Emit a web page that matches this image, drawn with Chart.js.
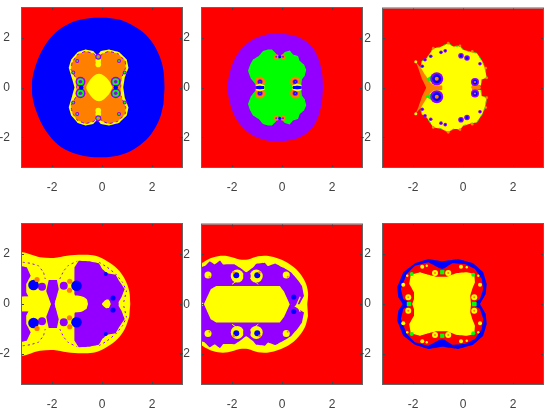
<!DOCTYPE html>
<html><head><meta charset="utf-8">
<style>html,body{margin:0;padding:0;background:#fff;width:550px;height:408px;overflow:hidden}canvas{position:absolute}</style>
<script src="https://cdn.jsdelivr.net/npm/chart.js@4"></script>
</head><body>
<script>
const axisTicks=[-2,0,2];
const axisLimit=3.2;
const RED='#ff0000',BLUE='#0000ff',ORANGE='#ff8000',YELLOW='#ffff00',GREEN='#00ff00',PURPLE='#9400ff';

// Panel 1 (upper halves, x,y)
const p1Blue=[[2.5,0],[2.46,.67],[2.3,1.27],[1.97,1.87],[1.5,2.33],[.89,2.67],[.35,2.79],[-.16,2.81],[-.72,2.76],[-1.33,2.57],[-1.87,2.2],[-2.34,1.6],[-2.64,.93],[-2.79,.33],[-2.8,0]];
const p1Rim=[[.85,0],[.91,.4],[1.06,.8],[.99,1.13],[.68,1.43],[.28,1.53],[-.05,1.47],[-.19,1.29],[-.35,1.47],[-.66,1.53],[-.97,1.43],[-1.23,1.13],[-1.33,.8],[-1.19,.33],[-1.1,0]];
const p1Orange=[[.75,0],[.76,.33],[.95,.8],[.93,1.07],[.64,1.36],[.28,1.46],[.01,1.36],[-.15,1.13],[-.32,1.36],[-.66,1.46],[-.99,1.32],[-1.2,1],[-1.24,.73],[-1.02,.33],[-1.02,0]];
const p1Diamond=[[.42,0],[.28,.27],[.08,.47],[-.12,.55],[-.32,.47],[-.52,.24],[-.63,0]];
const p1Rings=[[.55,.23],[-.86,.23]];
const p1Neck=[[.55,0],[-.83,0]];
const p1Top=[[-.15,1.24]];
const p1TopBlob=[[-.15,1.07],[-.15,.93]];
const p1Small=[[.68,1.07],[-.99,1.07],[.91,.6],[-1.15,.6]];

// Panel 2
const p2Purple=[[1.64,0],[1.6,.6],[1.44,1.2],[1.17,1.67],[.71,2],[.24,2.13],[-.29,2.17],[-.83,2.07],[-1.36,1.8],[-1.83,1.27],[-2.09,.6],[-2.17,0]];
const p2Green=[[.37,0],[.77,.09],[.8,.33],[.91,.47],[.97,.71],[.88,.93],[.71,1.07],[.64,1.27],[.44,1.33],[.31,1.49],[.11,1.43],[-.05,1.24],[-.13,1.16],[-.25,1.38],[-.4,1.53],[-.56,1.53],[-.76,1.47],[-.93,1.27],[-1.16,1.13],[-1.27,.93],[-1.36,.67],[-1.25,.36],[-1.03,.09],[-.69,0]];
const p2Rings=[[-.88,.23],[.53,.23]];
const p2Small=[[-.23,1.24],[.04,1.24]];
const p2Tiny=[[-.09,1.24]];
const p2BarL=[[-1.03,0],[-.72,0]];
const p2BarR=[[.44,0],[.75,0]];
const p2ArcL=[[-1.05,.07],[-.88,.13],[-.7,.05]];
const p2ArcR=[[.42,.05],[.6,.13],[.78,.07]];

// Panel 3
const p3Yellow=[[.35,0],[.37,.09],[.72,.09],[.75,.33],[.95,.4],[.88,.8],[.77,1.07],[.55,1.4],[.35,1.43],[.01,1.53],[-.12,1.69],[-.39,1.67],[-.59,1.8],[-.92,1.64],[-1.19,1.6],[-1.45,1.2],[-1.65,1.07],[-1.72,.67],[-1.45,.27],[-1.45,0]];
const p3Stalk=[[-.83,0],[-.83,.09],[-1.19,.11],[-1.32,.23],[-1.52,.53],[-1.68,.8],[-1.89,1.05],[-1.79,.8],[-1.63,.33],[-1.47,0]];
const p3Tongue=[[.35,0],[.37,.09],[.68,.07],[.72,0]];
const p3Wedge=[[-1.52,.33],[-1.15,.57],[-1.09,.17]];
const p3BigRing=[[-1.05,.36]];
const p3MidRing=[[.48,.23]];
const p3Rings3=[[-.08,1.29],[.16,1.2]];
const p3Rings2=[[-.88,1.43],[-.71,1.49],[-1.29,1.27],[-1.63,.87],[.68,.97],[-1.52,1.13]];
const p3Tips=[[-.59,1.8],[-.12,1.69],[-1.19,1.6],[.37,1.47],[.95,.4],[.91,.8]];
const p3TipEnd=[[-1.89,1.05]];

// Panel 4
const p4Yellow=[[1.13,0],[1.09,.51],[.91,1],[.62,1.4],[.21,1.71],[-.26,1.93],[-.79,1.97],[-1.4,1.93],[-1.93,1.84],[-2.48,1.87],[-3.3,2],[-3.3,0]];
const p4Body=[[.62,0],[.78,.27],[.91,.6],[.68,.93],[.55,1.17],[.21,1.23],[.01,1.4],[-.12,1.63],[-.52,1.71],[-.93,1.73],[-1.1,1.47],[-1.1,.4],[-1,0]];
const p4Column=[[-2.04,0],[-2.23,.51],[-2.13,.96],[-1.8,.96],[-1.73,.6],[-1.89,0]];
const p4Left=[[-3.3,1.53],[-3.01,1.47],[-2.85,1.13],[-3.03,.8],[-3.03,.47],[-2.94,.29],[-3.3,.29]];
const p4LeftHole=[[-3.3,.29],[-2.47,.32],[-2.2,.27],[-2.07,.01],[-3.3,.01]];
const p4MidHole=[[-.56,0],[-.62,.2],[-.86,.32],[-1.4,.33],[-1.77,.29],[-1.87,0]];
const p4TipHole=[[.35,0],[.28,.16],[.15,.16],[.01,.03],[0,0]];
const p4PurpleDots=[[-2.4,.69],[-1.53,.73]];
const p4BlueDots=[[-2.74,.76],[-1.02,.73]];
const p4OrangeDots=[[-2.6,.98],[-1.29,.91],[-1.3,.55]];
const p4Ring=[[.44,.24]];
const p4Center=[[.55,0]];
const p4Edge=[[.15,1.2]];
const p4Dash1=[[-3.17,1.67],[-2.87,1.63],[-2.54,1.53],[-2.34,1.27],[-2.27,1]];
const p4Dash2=[[-1.69,1],[-1.53,1.33],[-1.33,1.56],[-.99,1.71]];
const p4Dash3=[[-.12,1.67],[.21,1.47],[.55,1.2],[.82,.87],[.98,.53],[.85,0]];

// Panel 5
const p5Yellow=[[1.01,0],[1.04,.47],[.91,.93],[.57,1.4],[.11,1.73],[-.49,1.93],[-.96,1.93],[-1.36,1.8],[-1.69,1.8],[-2.16,1.93],[-2.56,1.93],[-2.96,1.8],[-3.3,1.5],[-3.3,0]];
const p5Purple=[[.37,0],[.7,0],[.88,.33],[.8,.73],[.64,.96],[.37,1.27],[.17,1.4],[.04,1.47],[-.27,1.64],[-.56,1.53],[-.69,1.67],[-1.03,1.63],[-1.16,1.47],[-1.43,1.27],[-1.69,1.47],[-1.89,1.6],[-2.36,1.6],[-2.48,1.76],[-2.69,1.6],[-2.89,1.73],[-3.09,1.53],[-3.3,1.47],[-3.3,0]];
const p5Hex=[[.31,0],[.08,.51],[-.09,.73],[-2.63,.73],[-2.85,.6],[-3.12,0]];
const p5Edge=[[-3.12,0],[-3.3,.18],[-3.3,0]];
const p5Pods=[[-1.79,1.13],[-1.03,1.13]];
const p5PodBlue=[[-1.83,1.16],[-.99,1.16]];
const p5PodOrange=[[-1.93,1.27],[-.9,1.27]];
const p5Mid=[[-1.4,1.13]];
const p5SideDots=[[-2.96,1.17],[.17,1.17]];
const p5SideInner=[[-2.9,1.1],[.23,1.1]];
const p5Col=[[.47,.29]];
const p5ColMid=[[.47,0]];
const p5Diag1=[[.6,0],[.73,.3]];
const p5Diag2=[[-2,.8],[-1.45,1.2],[-.95,.8]];

// Panel 6
const p6Blue=[[.68,0],[.91,.4],[.95,.8],[.81,1.27],[.41,1.63],[-.19,1.8],[-.83,1.71],[-1.39,1.8],[-1.92,1.63],[-2.39,1.27],[-2.63,.67],[-2.59,.27],[-2.41,0]];
const p6Red=[[.41,.03],[.68,.2],[.81,.6],[.75,1],[.48,1.4],[.08,1.6],[-.43,1.63],[-.72,1.44],[-.83,1.4],[-.96,1.44],[-1.39,1.67],[-1.92,1.53],[-2.25,1.2],[-2.48,.6],[-2.39,.2],[-2.08,.03]];
const p6Yellow=[[.32,0],[.29,.33],[.37,.6],[.48,.87],[.45,1.2],[.15,1.27],[-.25,1.24],[-.65,1.09],[-1.05,1.09],[-1.39,1.17],[-1.72,1.27],[-2.09,1.17],[-2.15,.8],[-1.96,.47],[-1.96,.2],[-2.03,0]];
const p6Squares=[[-.83,1.27],[-2.16,0],[.45,0]];
const p6Corners=[[-2.05,1.2],[.41,1.17]];
const p6Big=[[-1.12,1.24],[-.59,1.24],[-2.19,.27],[.45,.27]];
const p6Mid=[[-.08,1.49],[-1.63,1.49],[-2.39,.77],[.68,.77]];
const p6Tiny=[[.15,1.47],[-1.45,1.53],[-2.23,1.13],[.61,1.13]];

const pt=a=>a.map(([x,y])=>({x,y}));
const flip=a=>a.map(([x,y])=>[x,-y]);
const mirror=a=>a.concat(flip(a).reverse().filter(([x,y])=>y!==0));
const both=a=>a.concat(flip(a));
const area=(d,c,extra={})=>({data:pt(d),showLine:true,fill:'shape',backgroundColor:c,borderColor:c,borderWidth:0,pointRadius:0,tension:.001,...extra});
const blob=(d,c)=>area(d,c,{tension:.35});
const trace=(d,c,w,dash=[])=>({data:pt(d),showLine:true,fill:false,borderColor:c,borderWidth:w,borderDash:dash,pointRadius:0,tension:.001});
const dots=(d,c,r,style='circle')=>({data:pt(d),showLine:false,pointStyle:style,pointRadius:r,pointBackgroundColor:c,pointBorderWidth:0});
const rings=(d,list)=>list.map(([c,r])=>dots(d,c,r));

const panels=[
{left:22,top:8,h:159,layers:[
 blob(mirror(p1Blue),BLUE),area(mirror(p1Rim),YELLOW),
 area(mirror(p1Orange),ORANGE,{borderColor:PURPLE,borderWidth:1,borderDash:[3,3]}),
 blob(mirror(p1Diamond),YELLOW),
 ...rings(both(p1Rings),[[PURPLE,5],[GREEN,3.5],[PURPLE,1.8]]),
 dots(p1Neck,BLUE,2.2),
 dots(both(p1TopBlob),YELLOW,2.8),
 ...rings(both(p1Top),[[PURPLE,3],[GREEN,1.8],[ORANGE,.8]]),
 ...rings(both(p1Small),[[PURPLE,2],[GREEN,1]])]},
{left:202,top:8,h:159,layers:[
 blob(mirror(p2Purple),PURPLE),area(mirror(p2Green),GREEN),
 ...rings(both(p2Rings),[[ORANGE,5.2],[PURPLE,2.6],[BLUE,1.7],[ORANGE,.6]]),
 ...rings(both(p2Small),[[ORANGE,2.5],[PURPLE,1]]),
 dots(both(p2Tiny),BLUE,1.5),
 trace(p2ArcL,YELLOW,1.5),trace(flip(p2ArcL),YELLOW,1.5),trace(p2ArcR,YELLOW,1.5),trace(flip(p2ArcR),YELLOW,1.5),
 trace(p2BarL,BLUE,3),trace(p2BarR,BLUE,3)]},
{left:383,top:8,h:159,layers:[
 area(mirror(p3Yellow),YELLOW,{borderColor:GREEN,borderWidth:1,borderDash:[3,4]}),
 area(mirror(p3Stalk),ORANGE),area(mirror(p3Tongue),ORANGE),
 area(p3Wedge,GREEN),area(flip(p3Wedge),GREEN),
 ...rings(both(p3BigRing),[[PURPLE,6.5],[BLUE,4.5],[ORANGE,2]]),
 ...rings(both(p3MidRing),[[PURPLE,4],[BLUE,2.5],[ORANGE,1]]),
 ...rings(both(p3Rings3),[[PURPLE,2.8],[BLUE,1.5]]),
 ...rings(both(p3Rings2),[[PURPLE,1.8],[BLUE,.8]]),
 dots(both(p3Tips),ORANGE,1.3),dots(both(p3TipEnd),YELLOW,1.5)]},
{left:22,top:224,h:160,layers:[
 blob(mirror(p4Yellow),YELLOW),area(mirror(p4Body),PURPLE),area(mirror(p4Column),PURPLE),
 area(p4Left,PURPLE),area(flip(p4Left),PURPLE),
 area(mirror(p4LeftHole),YELLOW),blob(mirror(p4MidHole),YELLOW),blob(mirror(p4TipHole),YELLOW),
 dots(both(p4PurpleDots),PURPLE,4),dots(both(p4BlueDots),BLUE,5.3),dots(both(p4OrangeDots),ORANGE,2.6),
 ...rings(both(p4Ring),[[PURPLE,4],[BLUE,2.6]]),
 dots(p4Center,PURPLE,3),dots(both(p4Edge),BLUE,2),
 ...[p4Dash1,p4Dash2,p4Dash3].flatMap(d=>[trace(d,PURPLE,1,[2,3]),trace(flip(d),PURPLE,1,[2,3])])]},
{left:202,top:224,h:160,layers:[
 blob(mirror(p5Yellow),YELLOW),area(mirror(p5Purple),PURPLE),
 area(mirror(p5Hex),YELLOW),area(mirror(p5Edge),YELLOW),
 trace(p5Diag2,YELLOW,1),trace(flip(p5Diag2),YELLOW,1),
 dots(both(p5Pods),YELLOW,6.5),dots(both(p5PodBlue),BLUE,3),dots(both(p5PodOrange),ORANGE,1.3),
 dots(both(p5Mid),PURPLE,3.8),
 dots(both(p5SideDots),YELLOW,3.5),dots(both(p5SideInner),ORANGE,1),
 trace(p5Diag1,YELLOW,1.2),trace(flip(p5Diag1),YELLOW,1.2),
 dots(both(p5Col),BLUE,2.6),dots(p5ColMid,PURPLE,2.2)]},
{left:383,top:224,h:160,layers:[
 area(mirror(p6Blue),BLUE),area(mirror(p6Red),RED),area(mirror(p6Yellow),YELLOW),
 dots(both(p6Squares),GREEN,3,'rect'),dots(both(p6Corners),GREEN,2),
 ...rings(both(p6Big),[[YELLOW,3],[ORANGE,1]]),
 dots(both(p6Mid),YELLOW,2),dots(both(p6Tiny),YELLOW,1.2)]}
];

const frame={id:'frame',
 beforeDatasetsDraw(c){const {ctx,chartArea:a}=c;ctx.save();ctx.fillStyle=RED;ctx.fillRect(a.left,a.top,a.width,a.height);ctx.restore();},
 afterDatasetsDraw(c){
 const {ctx,chartArea:a,scales:{x,y}}=c;ctx.save();ctx.strokeStyle='#666';ctx.lineWidth=1;
 ctx.strokeRect(a.left-.5,a.top-.5,a.width+1,a.height+1);
 ctx.strokeStyle='#444';ctx.beginPath();
 axisTicks.forEach(v=>{const px=Math.round(x.getPixelForValue(v))+.5,py=Math.round(y.getPixelForValue(v))+.5;
  ctx.moveTo(px,a.bottom);ctx.lineTo(px,a.bottom-2);ctx.moveTo(px,a.top);ctx.lineTo(px,a.top+2);
  ctx.moveTo(a.left,py);ctx.lineTo(a.left+2,py);ctx.moveTo(a.right,py);ctx.lineTo(a.right-2,py);});
 ctx.stroke();ctx.restore();}};

const noPad=s=>{s.paddingTop=0;s.paddingBottom=0;s.paddingLeft=0;s.paddingRight=0;};
const axis=(pos,fit)=>({type:'linear',position:pos,min:-axisLimit,max:axisLimit,
 grid:{display:false},border:{display:false},
 afterBuildTicks:s=>{s.ticks=axisTicks.map(value=>({value}));},
 afterFit:s=>{fit(s);noPad(s);},
 ticks:{color:'#404040',padding:pos==='left'?4:5,maxRotation:0,autoSkip:false,font:{family:'"Liberation Sans"',size:12},callback:v=>String(v)}});

panels.forEach(p=>{
 const cv=document.createElement('canvas');
 const w=30+160+8,h=6+p.h+24;
 cv.width=w;cv.height=h;cv.style.cssText=`left:${p.left-30}px;top:${p.top-6}px;width:${w}px;height:${h}px`;
 document.body.appendChild(cv);
 p.layers.forEach((l,i)=>{l.order=-i;});
 new Chart(cv,{type:'scatter',data:{datasets:p.layers},plugins:[frame],options:{
  responsive:false,animation:false,devicePixelRatio:1,
  layout:{padding:{left:0,top:6,right:8,bottom:0}},
  plugins:{legend:{display:false},tooltip:{enabled:false}},
  scales:{x:axis('bottom',s=>{s.height=24;}),y:axis('left',s=>{s.width=30;})}}});
});
</script>
</body></html>
